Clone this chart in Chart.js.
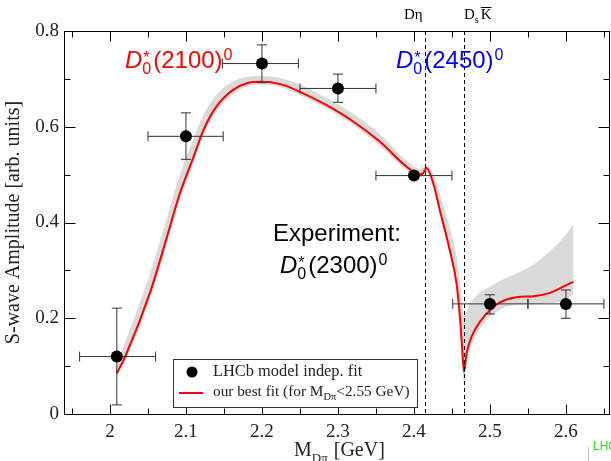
<!DOCTYPE html>
<html>
<head>
<meta charset="utf-8">
<script src="https://cdn.jsdelivr.net/npm/chart.js@4.4.0/dist/chart.umd.min.js"></script>
<style>
html,body{margin:0;padding:0;background:#fff;}
</style>
</head>
<body>
<canvas id="chart" width="611" height="461"></canvas>
<script>
// axis ticks
const xTicks = [2, 2.1, 2.2, 2.3, 2.4, 2.5, 2.6];
const xMinor = [1.95, 2.05, 2.15, 2.25, 2.35, 2.45, 2.55, 2.65];
const yTicks = [0, 0.2, 0.4, 0.6, 0.8];
const yMinor = [0.1, 0.3, 0.5, 0.7];

// LHCb model indep. fit (points + error bars)
const lhcbX   = [2.009, 2.1, 2.2, 2.3, 2.4, 2.5, 2.6];
const lhcbY   = [0.12, 0.58, 0.732, 0.68, 0.498, 0.23, 0.23];
const lhcbXlo = [1.96, 2.05, 2.148, 2.25, 2.35, 2.451, 2.55];
const lhcbXhi = [2.06, 2.149, 2.248, 2.35, 2.45, 2.55, 2.65];
const lhcbYlo = [0.019, 0.532, 0.692, 0.651, 0.498, 0.209, 0.2];
const lhcbYhi = [0.221, 0.629, 0.771, 0.71, 0.498, 0.249, 0.259];

// our best fit and its error band
const fitX = [2.009, 2.02, 2.053, 2.075, 2.092, 2.11, 2.123, 2.14, 2.162,
  2.18, 2.2, 2.224, 2.25, 2.285, 2.32, 2.355, 2.39, 2.408, 2.412,
  2.4165, 2.4254, 2.434, 2.447, 2.456, 2.4605, 2.4636, 2.4658, 2.4693, 2.476,
  2.487, 2.5, 2.513, 2.535, 2.557, 2.579, 2.5965, 2.61];
const fitY = [0.085, 0.12, 0.255, 0.37, 0.461, 0.537, 0.593, 0.642, 0.677,
  0.691, 0.694, 0.689, 0.673, 0.645, 0.611, 0.569, 0.517, 0.501, 0.503,
  0.514, 0.482, 0.426, 0.343, 0.273, 0.203, 0.134, 0.088, 0.127, 0.162,
  0.193, 0.217, 0.233, 0.244, 0.246, 0.253, 0.266, 0.276];
const bandLo = [0.08, 0.11, 0.243, 0.355, 0.445, 0.525, 0.58, 0.632, 0.668,
  0.684, 0.688, 0.683, 0.666, 0.638, 0.603, 0.56, 0.51, 0.495, 0.497,
  0.505, 0.475, 0.42, 0.335, 0.265, 0.195, 0.12, 0.065, 0.11, 0.145,
  0.178, 0.202, 0.218, 0.228, 0.23, 0.232, 0.236, 0.25];
const bandHi = [0.1, 0.15, 0.295, 0.41, 0.5, 0.575, 0.625, 0.667, 0.695,
  0.704, 0.706, 0.702, 0.688, 0.66, 0.627, 0.585, 0.53, 0.512, 0.515,
  0.52, 0.5, 0.46, 0.39, 0.33, 0.275, 0.23, 0.205, 0.215, 0.235,
  0.254, 0.266, 0.278, 0.294, 0.312, 0.34, 0.368, 0.397];

// D eta and Ds Kbar thresholds
const thresholds = [2.4145, 2.4665];

const pts = (xs, ys) => xs.map((x, i) => ({x: x, y: ys[i]}));
const SERIF = '"Liberation Serif", "Times New Roman", serif';
const SANS = '"Liberation Sans", Arial, sans-serif';

function dstar(ctx, x, y, mass, color){
  ctx.fillStyle = color;
  ctx.textAlign = 'left';
  ctx.textBaseline = 'alphabetic';
  ctx.font = 'italic 24px ' + SANS;
  ctx.fillText('D', x, y);
  let w = ctx.measureText('D').width;
  ctx.font = '16px ' + SANS;
  ctx.fillText('*', x + w + 1, y - 5);
  ctx.fillText('0', x + w, y + 6);
  let xs = x + w + ctx.measureText('0').width + 2;
  ctx.font = '24px ' + SANS;
  const s = '(' + mass + ')';
  ctx.fillText(s, xs, y);
  xs += ctx.measureText(s).width + 1;
  ctx.font = '16px ' + SANS;
  ctx.fillText('0', xs, y - 8);
}

const extras = {
  id: 'extras',
  beforeDatasetDraw(chart, args){
    if (args.index !== 0) return;
    const ctx = chart.ctx, xs = chart.scales.x, ys = chart.scales.y, a = chart.chartArea;
    ctx.save();
    // threshold lines
    ctx.strokeStyle = '#000';
    ctx.lineWidth = 1;
    ctx.setLineDash([4, 3]);
    thresholds.forEach(t => {
      const px = Math.round(xs.getPixelForValue(t)) + 0.5;
      ctx.beginPath(); ctx.moveTo(px, a.top); ctx.lineTo(px, a.bottom); ctx.stroke();
    });
    ctx.setLineDash([]);
    // error bars
    ctx.strokeStyle = '#333';
    lhcbX.forEach((x, i) => {
      const px = xs.getPixelForValue(x), py = ys.getPixelForValue(lhcbY[i]);
      const x0 = xs.getPixelForValue(lhcbXlo[i]), x1 = xs.getPixelForValue(lhcbXhi[i]);
      const y0 = ys.getPixelForValue(lhcbYlo[i]), y1 = ys.getPixelForValue(lhcbYhi[i]);
      ctx.beginPath();
      ctx.moveTo(x0, py); ctx.lineTo(x1, py);
      ctx.moveTo(x0, py - 5); ctx.lineTo(x0, py + 5);
      ctx.moveTo(x1, py - 5); ctx.lineTo(x1, py + 5);
      if (y0 !== y1){
        ctx.moveTo(px, y0); ctx.lineTo(px, y1);
        ctx.moveTo(px - 5, y0); ctx.lineTo(px + 5, y0);
        ctx.moveTo(px - 5, y1); ctx.lineTo(px + 5, y1);
      }
      ctx.stroke();
    });
    ctx.restore();
  },
  afterDraw(chart){
    const ctx = chart.ctx, xs = chart.scales.x, ys = chart.scales.y, a = chart.chartArea;
    ctx.save();
    // frame
    ctx.strokeStyle = '#000';
    ctx.lineWidth = 1;
    const L = Math.round(a.left) + 0.5, R = Math.round(a.right) - 0.5;
    const T = Math.round(a.top) + 0.5, B = Math.round(a.bottom) + 0.5;
    ctx.strokeRect(L, T, R - L, B - T);
    // inward ticks
    ctx.beginPath();
    const xt = (v, len) => {
      const px = Math.round(xs.getPixelForValue(v)) + 0.5;
      ctx.moveTo(px, B); ctx.lineTo(px, B - len);
      ctx.moveTo(px, T); ctx.lineTo(px, T + len);
    };
    const yt = (v, len) => {
      const py = Math.round(ys.getPixelForValue(v)) + 0.5;
      ctx.moveTo(L, py); ctx.lineTo(L + len, py);
      ctx.moveTo(R, py); ctx.lineTo(R - len, py);
    };
    xTicks.forEach(v => xt(v, 10)); xMinor.forEach(v => xt(v, 6));
    yTicks.forEach(v => yt(v, 11)); yMinor.forEach(v => yt(v, 6));
    ctx.stroke();

    // x axis title with subscript
    ctx.fillStyle = '#222';
    ctx.textAlign = 'left';
    ctx.textBaseline = 'alphabetic';
    let x = 294;
    ctx.font = '20px ' + SERIF; ctx.fillText('M', x, 456); x += ctx.measureText('M').width;
    ctx.font = '13px ' + SERIF; ctx.fillText('D\u03c0', x, 462); x += ctx.measureText('D\u03c0').width + 1;
    ctx.font = '20px ' + SERIF; ctx.fillText(' [GeV]', x, 456);

    // threshold labels
    ctx.fillStyle = '#000';
    ctx.font = '15px ' + SERIF;
    ctx.fillText('D\u03b7', 404, 19);
    ctx.fillText('D', 464, 19);
    let kx = 464 + ctx.measureText('D').width;
    ctx.font = '10px ' + SERIF; ctx.fillText('s', kx, 23); kx += ctx.measureText('s').width + 2;
    ctx.font = '15px ' + SERIF; ctx.fillText('K', kx, 19);
    const kw = ctx.measureText('K').width;
    ctx.beginPath(); ctx.moveTo(kx, 7.5); ctx.lineTo(kx + kw, 7.5); ctx.stroke();

    // resonance annotations
    dstar(ctx, 125, 68, '2100', '#ff0000');
    dstar(ctx, 396, 68, '2450', '#0000ff');
    ctx.fillStyle = '#000';
    ctx.textAlign = 'center';
    ctx.font = '24px ' + SANS;
    ctx.fillText('Experiment:', 337, 241);
    dstar(ctx, 280, 273, '2300', '#000');

    // legend
    ctx.fillStyle = '#fff';
    ctx.fillRect(173.5, 359.5, 244, 48);
    ctx.strokeStyle = '#333';
    ctx.strokeRect(173.5, 359.5, 244, 48);
    ctx.fillStyle = '#000';
    ctx.beginPath(); ctx.arc(192, 372, 5.5, 0, Math.PI * 2); ctx.fill();
    ctx.strokeStyle = '#ff0000'; ctx.lineWidth = 2;
    ctx.beginPath(); ctx.moveTo(179, 393); ctx.lineTo(203, 393); ctx.stroke();
    ctx.fillStyle = '#222';
    ctx.textAlign = 'left';
    ctx.font = '16.4px ' + SERIF;
    ctx.fillText('LHCb model indep. fit', 213, 376);
    let lx = 213;
    ctx.font = '15.3px ' + SERIF;
    ctx.fillText('our best fit (for M', lx, 396); lx += ctx.measureText('our best fit (for M').width;
    ctx.font = '10.5px ' + SERIF; ctx.fillText('D\u03c0', lx, 400); lx += ctx.measureText('D\u03c0').width;
    ctx.font = '15.3px ' + SERIF; ctx.fillText('<2.55 GeV)', lx, 396);

    // cropped corner mark
    ctx.strokeStyle = '#bbb'; ctx.lineWidth = 1;
    ctx.beginPath(); ctx.moveTo(588.5, 447); ctx.lineTo(588.5, 461); ctx.stroke();
    ctx.fillStyle = '#22dd22';
    ctx.font = '12px ' + SANS;
    ctx.fillText('LHC', 593, 450);
    ctx.restore();
  }
};

new Chart(document.getElementById('chart').getContext('2d'), {
  type: 'line',
  data: {
    datasets: [
      {
        label: 'LHCb model indep. fit',
        data: pts(lhcbX, lhcbY),
        showLine: false,
        pointRadius: 6,
        pointBackgroundColor: '#000',
        pointBorderWidth: 0
      },
      {
        label: 'our best fit',
        data: pts(fitX, fitY),
        borderColor: '#ff0000',
        borderWidth: 2,
        pointRadius: 0,
        cubicInterpolationMode: 'monotone',
        fill: false
      },
      {
        label: 'band hi',
        data: pts(fitX, bandHi),
        borderWidth: 0,
        borderColor: 'rgba(0,0,0,0)',
        backgroundColor: '#dadada',
        pointRadius: 0,
        cubicInterpolationMode: 'monotone',
        fill: '+1'
      },
      {
        label: 'band lo',
        data: pts(fitX, bandLo),
        borderWidth: 0,
        borderColor: 'rgba(0,0,0,0)',
        pointRadius: 0,
        cubicInterpolationMode: 'monotone',
        fill: false
      }
    ]
  },
  options: {
    responsive: false,
    animation: false,
    devicePixelRatio: 1,
    layout: {autoPadding: false, padding: {top: 31, right: 1, left: 0, bottom: 0}},
    plugins: {legend: {display: false}, tooltip: {enabled: false}},
    scales: {
      x: {
        type: 'linear',
        min: 1.9395,
        max: 2.658,
        afterBuildTicks: s => { s.ticks = xTicks.map(v => ({value: v})); },
        afterFit: s => { s.height = 47; s.paddingLeft = 0; s.paddingRight = 0; },
        grid: {display: false, drawTicks: false},
        border: {display: false},
        ticks: {padding: 7, color: '#222', font: {family: SERIF, size: 19}, callback: v => String(v), maxRotation: 0}
      },
      y: {
        type: 'linear',
        min: 0,
        max: 0.8,
        afterBuildTicks: s => { s.ticks = yTicks.map(v => ({value: v})); },
        afterFit: s => { s.width = 64; s.paddingTop = 0; s.paddingBottom = 0; },
        grid: {display: false, drawTicks: false},
        border: {display: false},
        ticks: {padding: 5, color: '#222', font: {family: SERIF, size: 19}, callback: v => String(v)},
        title: {display: true, text: 'S-wave Amplitude [arb. units]', color: '#222', font: {family: SERIF, size: 20}, padding: {top: 2, bottom: 0}}
      }
    }
  },
  plugins: [extras]
});
</script>
</body>
</html>
